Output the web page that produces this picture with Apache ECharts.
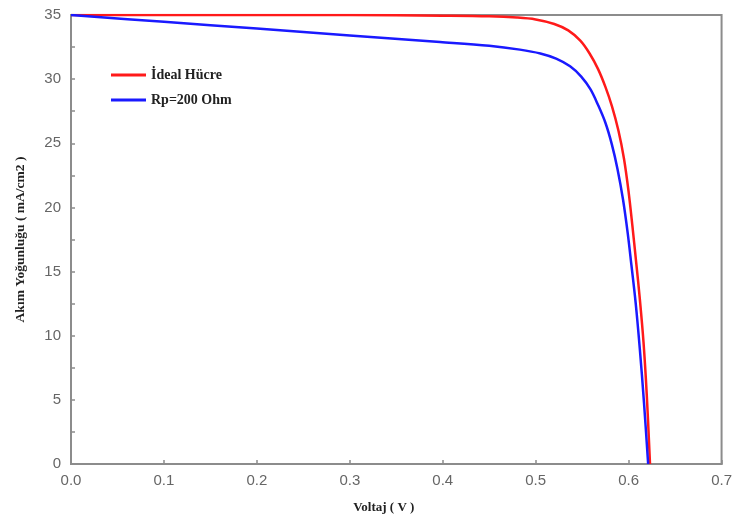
<!DOCTYPE html>
<html>
<head>
<meta charset="utf-8">
<script src="https://cdn.jsdelivr.net/npm/echarts@6/dist/echarts.min.js"></script>
<style>
    html, body { margin: 0; padding: 0; background: #fff; }
    #chart { width: 735px; height: 519px; }
</style>
</head>
<body>
<div id="chart"></div>
<script>
// values: [voltage (V), current density (mA/cm2)]
var idealData = [
    [0, 35], [0.1, 35], [0.2, 35], [0.3, 35], [0.4, 34.95], [0.45, 34.9],
    [0.48, 34.8], [0.5, 34.65], [0.52, 34.3], [0.535, 33.8], [0.548, 33.0],
    [0.558, 32.0], [0.567, 30.8], [0.575, 29.4], [0.582, 27.9], [0.589, 26.0],
    [0.595, 23.8], [0.6, 21.2], [0.604, 18.6], [0.608, 15.8], [0.612, 12.9],
    [0.616, 9.5], [0.6195, 5.4], [0.623, 0]
];
var rpData = [
    [0, 35], [0.1, 34.47], [0.2, 33.94], [0.3, 33.41], [0.397, 32.9],
    [0.45, 32.6], [0.483, 32.3], [0.505, 32.0], [0.522, 31.6], [0.537, 31.0],
    [0.549, 30.2], [0.559, 29.2], [0.567, 28.0], [0.575, 26.6], [0.582, 24.9],
    [0.588, 23.0], [0.594, 20.6], [0.599, 18.0], [0.603, 15.5], [0.6075, 12.6],
    [0.612, 9.0], [0.6165, 4.8], [0.621, 0]
];
var seriesNames = ['İdeal Hücre', 'Rp=200 Ohm'];
var xTicks = [0, 0.1, 0.2, 0.3, 0.4, 0.5, 0.6, 0.7];
var yTicks = [0, 5, 10, 15, 20, 25, 30, 35];

var chart = echarts.init(document.getElementById('chart'));

var option = {
    animation: false,
    grid: {
        left: 71,
        right: 13,
        top: 15,
        bottom: 53,
        show: true,
        borderColor: '#8c8c8c',
        borderWidth: 2
    },
    legend: {
        orient: 'vertical',
        left: 106,
        top: 63,
        itemGap: 11,
        itemWidth: 35,
        itemHeight: 3,
        icon: 'rect',
        data: seriesNames,
        textStyle: {
            fontFamily: 'Liberation Serif',
            fontWeight: 'bold',
            fontSize: 14,
            color: '#222'
        }
    },
    xAxis: {
        type: 'value',
        min: xTicks[0],
        max: xTicks[xTicks.length - 1],
        interval: 0.1,
        name: 'Voltaj ( V )',
        nameLocation: 'middle',
        nameGap: 37,
        nameTextStyle: {
            fontFamily: 'Liberation Serif',
            fontWeight: 'bold',
            fontSize: 13,
            color: '#222',
            padding: [0, 25, 0, 0]
        },
        axisLine: { lineStyle: { color: '#8c8c8c', width: 2 } },
        axisTick: { inside: true, length: 4, lineStyle: { color: '#8c8c8c', width: 1.5 } },
        splitLine: { show: false },
        axisLabel: {
            fontFamily: 'Liberation Sans',
            fontSize: 15,
            color: '#666',
            margin: 9,
            formatter: function (v) { return v.toFixed(1); }
        }
    },
    yAxis: {
        type: 'value',
        min: yTicks[0],
        max: yTicks[yTicks.length - 1],
        interval: 2.5,
        name: 'Akım Yoğunluğu ( mA/cm2 )',
        nameLocation: 'middle',
        nameGap: 43,
        nameTextStyle: {
            fontFamily: 'Liberation Serif',
            fontWeight: 'bold',
            fontSize: 13.5,
            color: '#222'
        },
        axisLine: { show: true, lineStyle: { color: '#8c8c8c', width: 2 } },
        axisTick: { show: true, inside: true, length: 4, lineStyle: { color: '#8c8c8c', width: 1.5 } },
        splitLine: { show: false },
        axisLabel: {
            fontFamily: 'Liberation Sans',
            fontSize: 15,
            color: '#666',
            margin: 10,
            formatter: function (v) { return yTicks.indexOf(v) >= 0 ? String(v) : ''; }
        }
    },
    series: [
        {
            name: seriesNames[0],
            type: 'line',
            data: idealData,
            smooth: 0.35,
            showSymbol: false,
            color: '#ff1a1a',
            lineStyle: { width: 2.5, color: '#ff1a1a' },
            z: 3
        },
        {
            name: seriesNames[1],
            type: 'line',
            data: rpData,
            smooth: 0.35,
            showSymbol: false,
            color: '#1a1aff',
            lineStyle: { width: 2.5, color: '#1a1aff' },
            z: 4
        }
    ]
};

chart.setOption(option);
</script>
</body>
</html>
